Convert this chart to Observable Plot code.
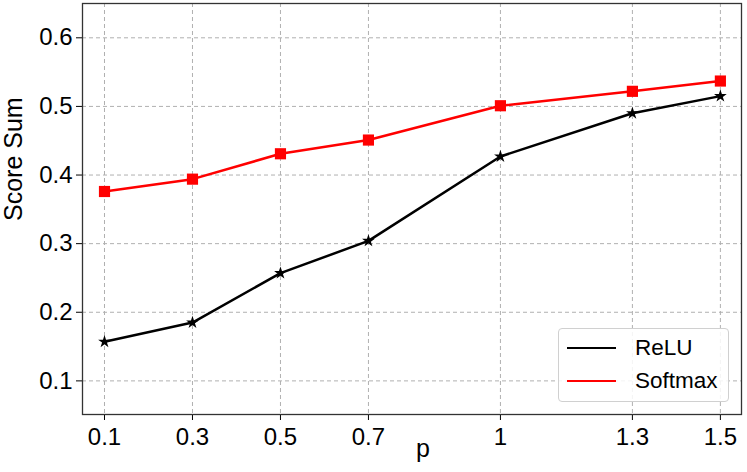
<!DOCTYPE html>
<html>
<head>
<meta charset="utf-8">
<script src="https://cdn.jsdelivr.net/npm/d3@7"></script>
<script src="https://cdn.jsdelivr.net/npm/@observablehq/plot@0.6"></script>
<style>
  html, body { margin: 0; padding: 0; background: #fff; }
  #wrap { position: relative; width: 747px; height: 472px; font-family: "Liberation Sans", Arial, sans-serif; }
  #legend { position: absolute; left: 558px; top: 328px; width: 171px; height: 74px; border: 1px solid #d0d0d0; border-radius: 4px; background: rgba(255,255,255,0.85); box-sizing: border-box; }
  .row { position: absolute; left: 0; height: 30px; display: flex; align-items: center; }
  .sw { width: 49px; height: 0; border-top: 2.5px solid; margin-left: 8px; margin-right: 19px; }
  .lab { font-size: 22.5px; color: #000; }
</style>
</head>
<body>
<div id="wrap"></div>
<script>
const pValues = [0.1, 0.3, 0.5, 0.7, 1, 1.3, 1.5];
const reluValues = [0.157, 0.185, 0.257, 0.304, 0.427, 0.490, 0.515];
const softmaxValues = [0.376, 0.394, 0.431, 0.451, 0.501, 0.522, 0.537];
const yTicks = [0.1, 0.2, 0.3, 0.4, 0.5, 0.6];
const seriesNames = ["ReLU", "Softmax"];
const seriesColors = ["#000000", "#ff0000"];
const xLabel = "p";
const yLabel = "Score Sum";

const relu = pValues.map((p, i) => ({p, v: reluValues[i], s: "ReLU"}));
const softmax = pValues.map((p, i) => ({p, v: softmaxValues[i], s: "Softmax"}));

const chart = Plot.plot({
  width: 747,
  height: 472,
  marginLeft: 82,
  marginRight: 6,
  marginTop: 3,
  marginBottom: 58,
  style: { fontFamily: "Liberation Sans, Arial, sans-serif", fontSize: "24px", color: "#000", background: "#fff" },
  x: { domain: [0.05, 1.548] },
  y: { domain: [0.051, 0.65] },
  marks: [
    Plot.gridX(pValues, { stroke: "#b0b0b0", strokeOpacity: 1, strokeDasharray: "4,3", strokeWidth: 1 }),
    Plot.gridY(yTicks, { stroke: "#b0b0b0", strokeOpacity: 1, strokeDasharray: "4,3", strokeWidth: 1 }),
    Plot.axisX(pValues, { tickSize: 6, tickPadding: 7, tickFormat: d => String(d), fontSize: 24, label: null }),
    Plot.axisY(yTicks, { tickSize: 6, tickPadding: 4, tickFormat: d => d.toFixed(1), fontSize: 24, label: null }),
    Plot.text([xLabel], { frameAnchor: "bottom", text: d => d, dx: 11, dy: 42, fontSize: 25, fill: "#000" }),
    Plot.text([yLabel], { frameAnchor: "left", text: d => d, rotate: -90, dx: -69, dy: 12, fontSize: 25, fill: "#000" }),
    Plot.line(relu, { x: "p", y: "v", stroke: seriesColors[0], strokeWidth: 2.5 }),
    Plot.line(softmax, { x: "p", y: "v", stroke: seriesColors[1], strokeWidth: 2.5 }),
    Plot.dot(relu, { x: "p", y: "v", symbol: "star", r: 4, fill: seriesColors[0], stroke: "none" }),
    Plot.dot(softmax, { x: "p", y: "v", symbol: "square", r: 6.3, fill: seriesColors[1], stroke: "none" }),
    Plot.frame({ stroke: "#333", strokeWidth: 1.3 })
  ]
});
const wrap = document.getElementById("wrap");
wrap.appendChild(chart);

const legend = document.createElement("div");
legend.id = "legend";
seriesNames.forEach((name, i) => {
  const row = document.createElement("div");
  row.className = "row";
  row.style.top = (4 + i * 33) + "px";
  const sw = document.createElement("div");
  sw.className = "sw";
  sw.style.borderTopColor = seriesColors[i];
  const lab = document.createElement("span");
  lab.className = "lab";
  lab.textContent = name;
  row.appendChild(sw); row.appendChild(lab);
  legend.appendChild(row);
});
wrap.appendChild(legend);
</script>
</body>
</html>
